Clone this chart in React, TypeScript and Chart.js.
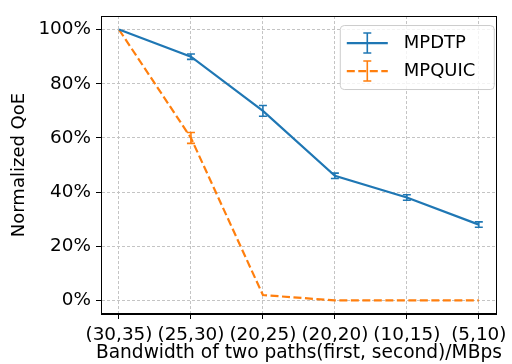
import React, { useEffect, useRef } from "react";
import { Chart, registerables } from "chart.js";

Chart.register(...registerables);

const categories = ["(30,35)", "(25,30)", "(20,25)", "(20,20)", "(10,15)", "(5,10)"];
const mpdtpValues = [100, 90, 70, 46, 38, 28];
const mpdtpErrors = [0, 1, 2, 1, 1, 1];
const mpquicValues = [100, 60, 2, 0, 0, 0];
const mpquicErrors = [0, 2, 0, 0, 0, 0];
const yTicks = [0, 20, 40, 60, 80, 100];
const seriesNames = ["MPDTP", "MPQUIC"];
const xTitle = "Bandwidth of two paths(first, second)/MBps";
const yTitle = "Normalized QoE";

const BLUE = "#1f77b4";
const ORANGE = "#ff7f0e";
const FONT = "DejaVu Sans";
const DASH = [8, 3.5];
const GRID = "#c4c4c4";

const errorBarPlugin = {
  id: "errorBars",
  afterDatasetsDraw(chart: any) {
    const ctx = chart.ctx;
    const ys = chart.scales.y;
    chart.data.datasets.forEach((ds: any, i: number) => {
      const meta = chart.getDatasetMeta(i);
      const errs: number[] = ds.errors || [];
      meta.data.forEach((pt: any, j: number) => {
        const e = errs[j] || 0;
        if (!e) return;
        const v = ds.data[j].y;
        const x = pt.x;
        const y1 = ys.getPixelForValue(v - e);
        const y2 = ys.getPixelForValue(v + e);
        ctx.save();
        ctx.strokeStyle = ds.borderColor;
        ctx.lineWidth = 1.6;
        ctx.setLineDash([]);
        ctx.beginPath();
        ctx.moveTo(x, y1);
        ctx.lineTo(x, y2);
        ctx.moveTo(x - 4, y1);
        ctx.lineTo(x + 4, y1);
        ctx.moveTo(x - 4, y2);
        ctx.lineTo(x + 4, y2);
        ctx.stroke();
        ctx.restore();
      });
    });
  },
};

const framePlugin = {
  id: "frame",
  afterDatasetsDraw(chart: any) {
    const { ctx, chartArea } = chart;
    ctx.save();
    ctx.strokeStyle = "#000";
    ctx.lineWidth = 1;
    ctx.setLineDash([]);
    ctx.strokeRect(
      Math.round(chartArea.left) + 0.5,
      Math.round(chartArea.top) + 0.5,
      Math.round(chartArea.right - chartArea.left) - 1,
      Math.round(chartArea.bottom - chartArea.top) - 1
    );
    ctx.restore();
  },
};

const xTitlePlugin = {
  id: "xTitle",
  afterDraw(chart: any) {
    const { ctx, chartArea } = chart;
    ctx.save();
    ctx.fillStyle = "#000";
    ctx.font = `18.6px "${FONT}"`;
    ctx.textAlign = "center";
    ctx.textBaseline = "middle";
    ctx.fillText(xTitle, (chartArea.left + chartArea.right) / 2, chartArea.bottom + 39);
    ctx.restore();
  },
};

const legendPlugin = {
  id: "customLegend",
  afterDraw(chart: any) {
    const { ctx, chartArea } = chart;
    const w = 154;
    const h = 64;
    const left = chartArea.right - 157;
    const top = chartArea.top + 9;
    ctx.save();
    ctx.beginPath();
    if (ctx.roundRect) ctx.roundRect(left + 0.5, top + 0.5, w, h, 4);
    else ctx.rect(left + 0.5, top + 0.5, w, h);
    ctx.fillStyle = "rgba(255,255,255,0.8)";
    ctx.fill();
    ctx.strokeStyle = "#cccccc";
    ctx.lineWidth = 1;
    ctx.stroke();
    chart.data.datasets.forEach((ds: any, i: number) => {
      const cy = top + 18 + i * 28;
      const x1 = left + 7;
      const x2 = left + 48;
      const cx = (x1 + x2) / 2;
      ctx.strokeStyle = ds.borderColor;
      ctx.lineWidth = 2.2;
      ctx.setLineDash(ds.borderDash || []);
      ctx.beginPath();
      ctx.moveTo(x1, cy);
      ctx.lineTo(x2, cy);
      ctx.stroke();
      ctx.setLineDash([]);
      ctx.lineWidth = 1.6;
      ctx.beginPath();
      ctx.moveTo(cx, cy - 10);
      ctx.lineTo(cx, cy + 10);
      ctx.moveTo(cx - 4, cy - 10);
      ctx.lineTo(cx + 4, cy - 10);
      ctx.moveTo(cx - 4, cy + 10);
      ctx.lineTo(cx + 4, cy + 10);
      ctx.stroke();
      ctx.fillStyle = "#000";
      ctx.font = `18px "${FONT}"`;
      ctx.textBaseline = "middle";
      ctx.textAlign = "left";
      ctx.fillText(ds.label, left + 64, cy);
    });
    ctx.restore();
  },
};

const gridOpts = {
  color: GRID,
  lineWidth: 1,
  drawTicks: true,
  tickLength: 5,
  tickColor: "#000",
  tickBorderDash: [],
  tickWidth: 1,
};

export default function App() {
  const ref = useRef<HTMLCanvasElement | null>(null);

  useEffect(() => {
    if (!ref.current) return;
    const chart = new Chart(ref.current, {
      type: "line",
      data: {
        datasets: [
          {
            label: seriesNames[0],
            data: mpdtpValues.map((v, i) => ({ x: i, y: v })),
            errors: mpdtpErrors,
            borderColor: BLUE,
            backgroundColor: BLUE,
            borderWidth: 2.2,
            pointRadius: 0,
            tension: 0,
            fill: false,
          } as any,
          {
            label: seriesNames[1],
            data: mpquicValues.map((v, i) => ({ x: i, y: v })),
            errors: mpquicErrors,
            borderColor: ORANGE,
            backgroundColor: ORANGE,
            borderWidth: 2.2,
            borderDash: DASH,
            pointRadius: 0,
            tension: 0,
            fill: false,
          } as any,
        ],
      },
      options: {
        responsive: false,
        animation: false,
        devicePixelRatio: 1,
        layout: { padding: { top: 16, right: 12, left: 0, bottom: 0 } },
        plugins: {
          legend: { display: false },
          tooltip: { enabled: false },
        },
        scales: {
          x: {
            type: "linear",
            min: -0.25,
            max: 5.25,
            afterBuildTicks: (scale: any) => {
              scale.ticks = categories.map((_, i) => ({ value: i }));
            },
            afterFit: (scale: any) => {
              scale.height = 50;
            },
            ticks: {
              autoSkip: false,
              maxRotation: 0,
              minRotation: 0,
              padding: 5,
              color: "#000",
              font: { family: FONT, size: 18.4 },
              callback: (v: any) => categories[v as number] ?? "",
            },
            grid: gridOpts as any,
            border: { display: true, color: "#000", width: 1, dash: [3, 2] } as any,
            title: { display: false },
          },
          y: {
            type: "linear",
            min: -5,
            max: 105,
            afterBuildTicks: (scale: any) => {
              scale.ticks = yTicks.map((v) => ({ value: v }));
            },
            afterFit: (scale: any) => {
              scale.width = 101;
            },
            ticks: {
              padding: 5,
              color: "#000",
              font: { family: FONT, size: 18.4 },
              callback: (v: any) => `${v}%`,
            },
            grid: gridOpts as any,
            border: { display: true, color: "#000", width: 1, dash: [3, 2] } as any,
            title: {
              display: true,
              text: yTitle,
              color: "#000",
              font: { family: FONT, size: 18 },
              padding: { top: 9, bottom: 0 },
            },
          },
        },
      } as any,
      plugins: [errorBarPlugin, framePlugin, legendPlugin, xTitlePlugin],
    });
    return () => chart.destroy();
  }, []);

  return (
    <div style={{ position: "absolute", left: 0, top: 0, width: 512, height: 364, background: "#fff" }}>
      <canvas ref={ref} width={512} height={364} />
    </div>
  );
}
